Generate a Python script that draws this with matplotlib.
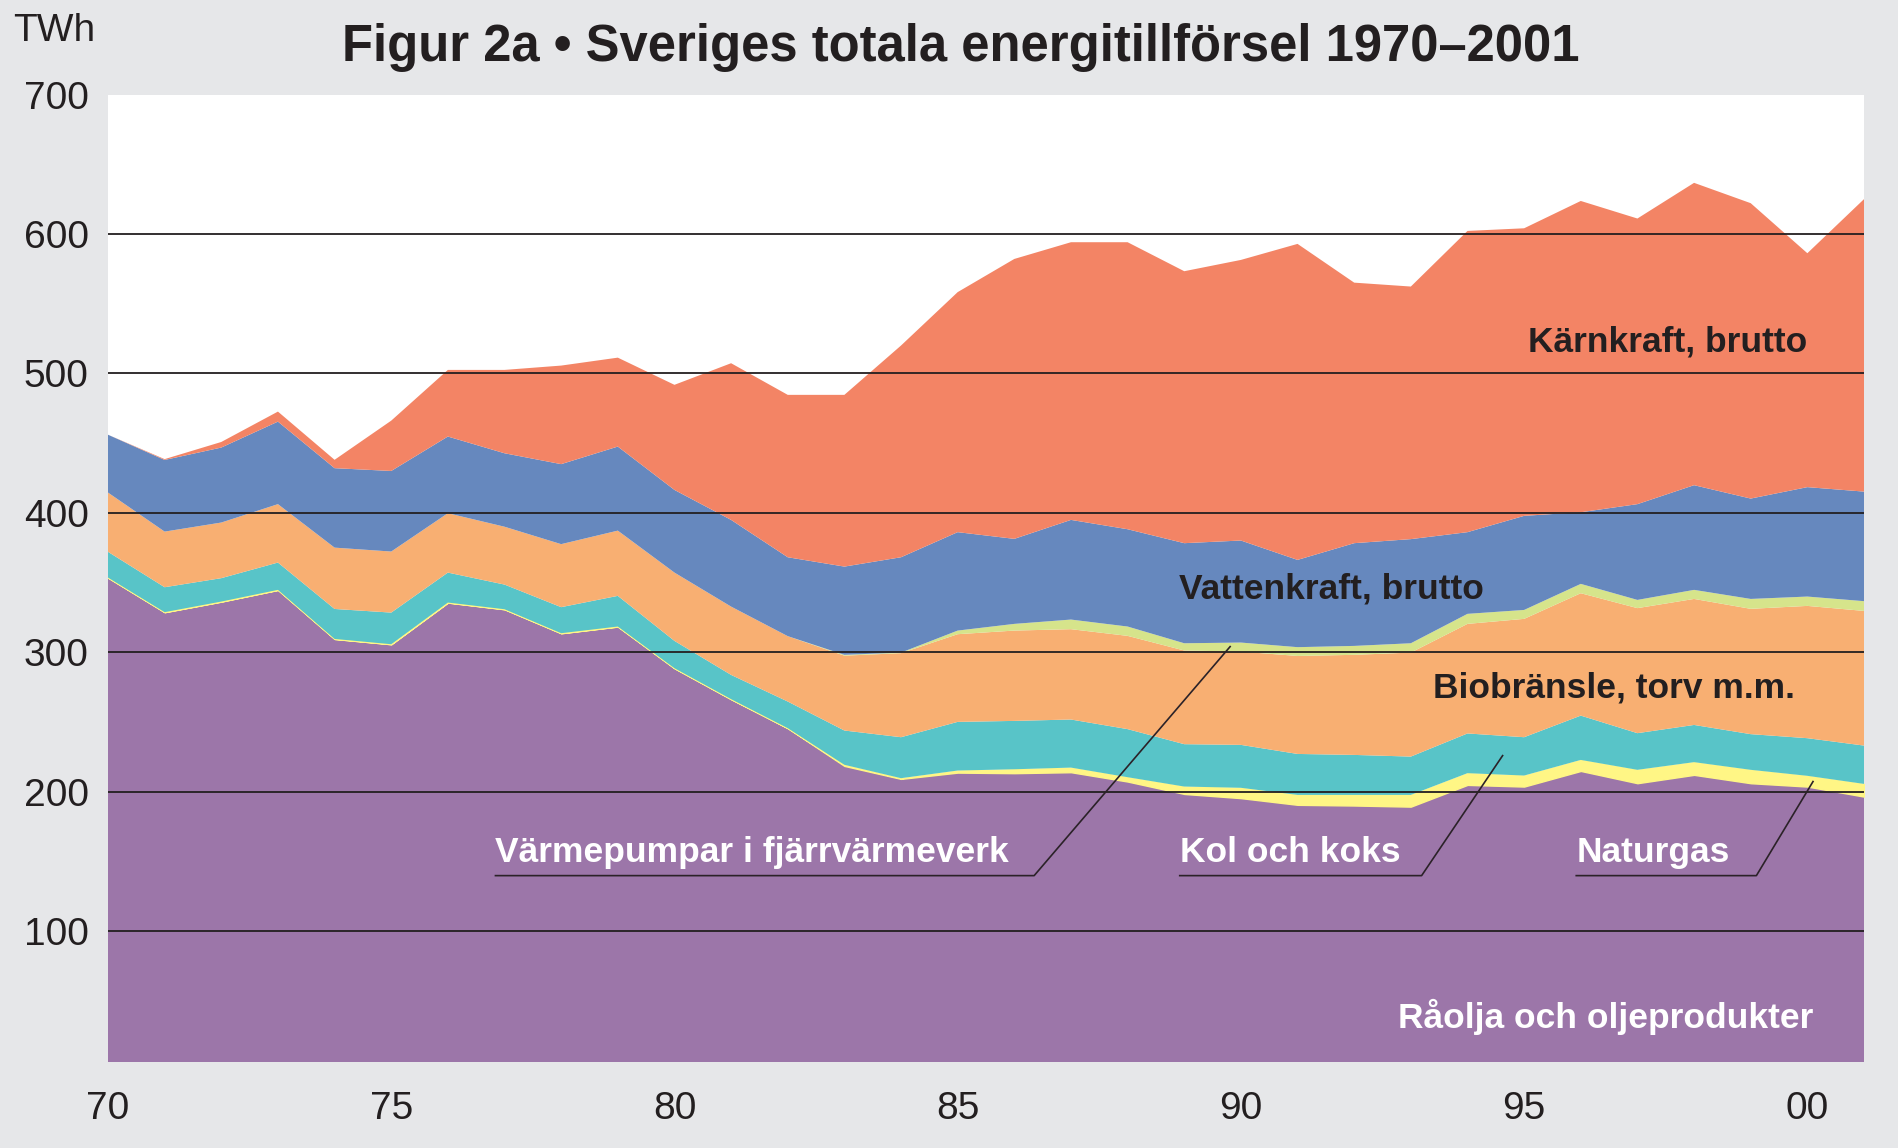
import numpy as np
import matplotlib.pyplot as plt

years = np.arange(1970, 2002)

# TWh per year, stacked bottom to top
raolja = [353.5, 328.7, 336.3, 344.7, 309.5, 305.7, 335.6, 330.8, 313.6, 318.4,
          288.5, 266.3, 245.5, 218.4, 209.1, 213.6, 213.2, 213.9, 207.2, 198.3,
          195.3, 190.5, 190.0, 189.2, 204.8, 203.6, 214.8, 206.0, 212.0, 206.0,
          203.6, 196.4]
naturgas = [0, 0, 0, 0, 0, 0, 0, 0, 0, 0,
            0, 0, 0, 0.8, 0.5, 1.5, 2.8, 3.3, 3.1, 5.3,
            7.4, 7.1, 7.6, 8.4, 8.4, 7.9, 7.9, 9.6, 9.1, 9.6,
            7.7, 9.1]
kol = [18.5, 17.9, 16.8, 19.6, 21.5, 22.7, 21.5, 17.7, 18.7, 22.0,
       19.6, 17.4, 19.1, 24.6, 29.4, 34.9, 34.7, 34.5, 34.5, 30.4,
       30.8, 29.4, 28.7, 27.5, 28.5, 27.5, 31.8, 26.3, 26.7, 25.6,
       27.0, 27.5]
biobransle = [42.5, 39.9, 39.9, 41.9, 44.0, 43.8, 42.6, 41.5, 45.2, 46.8,
              49.0, 49.0, 46.9, 53.7, 60.3, 62.9, 64.8, 64.8, 66.9, 67.2,
              66.9, 70.3, 71.8, 74.6, 78.6, 84.9, 87.8, 89.7, 90.4, 89.9,
              94.9, 96.6]
varmepumpar = [0, 0, 0, 0, 0, 0, 0, 0, 0, 0,
               0, 0, 0, 0.6, 0.4, 2.6, 4.8, 6.9, 6.7, 5.2,
               6.5, 6.3, 6.4, 6.7, 7.2, 6.4, 6.7, 5.9, 6.5, 7.1,
               6.7, 7.0]
vattenkraft = [41.5, 51.4, 53.8, 59.2, 57.0, 57.8, 55.0, 52.7, 57.4, 60.3,
               59.3, 62.2, 56.6, 63.3, 68.4, 70.6, 61.0, 71.5, 69.8, 71.8,
               73.2, 62.6, 73.7, 74.7, 58.6, 67.5, 51.4, 68.7, 75.1, 72.0,
               78.5, 78.6]
karnkraft = [0, 0.6, 4.0, 7.2, 6.0, 36.1, 47.8, 59.8, 70.7, 63.8,
             75.4, 112.4, 116.5, 123.2, 151.9, 172.2, 200.8, 199.2, 205.9, 195.1,
             201.3, 226.7, 186.9, 181.2, 216.1, 206.3, 223.3, 204.9, 216.9, 211.9,
             167.8, 209.8]

colors = ['#9c76a9', '#fff685', '#58c4c8', '#f8af72', '#d6e48b', '#6688be', '#f38465']

yticks = [100, 200, 300, 400, 500, 600, 700]
xticks = [1970, 1975, 1980, 1985, 1990, 1995, 2000]
xticklabels = ['70', '75', '80', '85', '90', '95', '00']

plt.rcParams['font.family'] = ['Liberation Sans', 'DejaVu Sans']
dark = '#231f20'

fig = plt.figure(figsize=(18.98, 11.48), dpi=100, facecolor='#e6e7e9')
ax = fig.add_axes([108 / 1898, 1 - 1062 / 1148, (1864 - 108) / 1898, (1062 - 94.6) / 1148])
ax.set_facecolor('white')

polys = ax.stackplot(years, raolja, naturgas, kol, biobransle, varmepumpar,
                     vattenkraft, karnkraft, colors=colors, linewidth=0)
polys[1].set_edgecolor('#fff685')
polys[1].set_linewidth(1.0)

ax.set_xlim(1970, 2001)
ax.set_ylim(6, 700)
ax.set_yticks(yticks)
ax.set_xticks(xticks)
ax.set_xticklabels(xticklabels)
ax.tick_params(length=0, labelsize=28, labelcolor=dark)
ax.tick_params(axis='y', pad=14)
ax.tick_params(axis='x', pad=21)
for s in ax.spines.values():
    s.set_visible(False)
ax.set_axisbelow(False)
ax.yaxis.grid(True, color=dark, linewidth=1.3)
ax.get_ygridlines()[-1].set_visible(False)

fig.text(13 / 1898, 1 - 31 / 1148, 'TWh', fontsize=28, color=dark, ha='left', va='center')
fig.text(961 / 1898, 1 - 61 / 1148, 'Figur 2a \u2022 Sveriges totala energitillförsel 1970\u20132001',
         fontsize=36.5, fontweight='bold', color=dark, ha='center', va='baseline')

lab = dict(fontsize=25.5, fontweight='bold', va='baseline')
ax.text(2000.0, 515.4, 'Kärnkraft, brutto', color=dark, ha='right', **lab)
ax.text(1988.9, 338.2, 'Vattenkraft, brutto', color=dark, ha='left', **lab)
ax.text(1993.4, 267.2, 'Biobränsle, torv m.m.', color=dark, ha='left', **lab)
ax.text(2000.1, 30.5, 'Råolja och oljeprodukter', color='white', ha='right', **lab)

# labels with pointer lines: (text, text x, underline end x, pointed-to point)
pointers = [
    ('Värmepumpar i fjärrvärmeverk', 1976.84, 1986.35, (1989.81, 304.0)),
    ('Kol och koks', 1988.92, 1993.19, (1994.62, 225.8)),
    ('Naturgas', 1995.92, 1999.10, (2000.10, 207.2)),
]
for txt, x0, x1, (px, py) in pointers:
    ax.text(x0, 149.6, txt, color='white', ha='left', **lab)
    ax.plot([x0, x1, px], [139.7, 139.7, py], color='#2b2228', linewidth=1.2, zorder=4)

fig.savefig('out.png', dpi=100, facecolor=fig.get_facecolor())
